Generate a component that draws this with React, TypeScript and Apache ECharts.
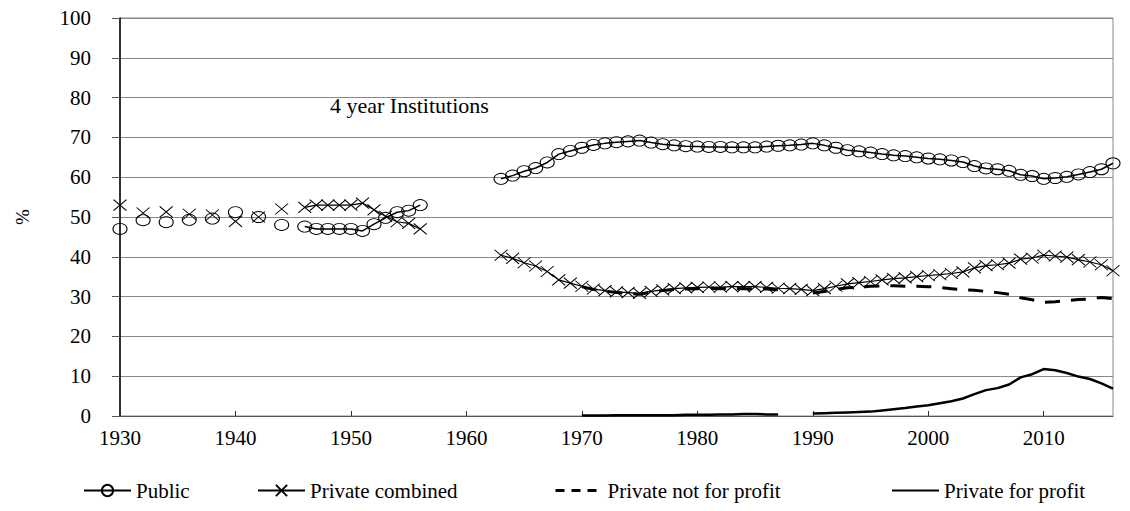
import React, { useEffect, useRef } from "react";
import * as echarts from "echarts";

const FIRST_YEAR = 1930;
const LAST_YEAR = 2016;
const years: string[] = [];
for (let y = FIRST_YEAR; y <= LAST_YEAR; y++) years.push(String(y));

const yTicks = [0, 10, 20, 30, 40, 50, 60, 70, 80, 90, 100];

// 1930-1956 (biennial then annual)
const earlyYears = [1930, 1932, 1934, 1936, 1938, 1940, 1942, 1944, 1946, 1947, 1948, 1949, 1950, 1951, 1952, 1953, 1954, 1955, 1956];
const publicEarly = [47.0, 49.2, 48.7, 49.3, 49.6, 51.2, 50.0, 48.0, 47.6, 47.0, 47.0, 47.0, 47.0, 46.5, 48.2, 49.8, 51.2, 51.6, 53.0];
const privateEarly = [53.0, 51.0, 51.3, 50.7, 50.5, 48.9, 50.0, 52.0, 52.4, 53.0, 53.0, 53.0, 53.0, 53.5, 51.8, 50.2, 48.8, 48.4, 47.0];

// 1963-2016 (annual)
const modernStart = 1963;
const publicModern = [
  59.6, 60.4, 61.5, 62.3, 63.7, 65.8, 66.6, 67.4, 68.1, 68.5,
  68.8, 69.0, 69.2, 68.7, 68.3, 68.0, 67.8, 67.7, 67.6, 67.6,
  67.5, 67.5, 67.5, 67.7, 67.9, 68.0, 68.2, 68.5, 68.0, 67.4,
  66.8, 66.5, 66.2, 65.8, 65.5, 65.3, 65.0, 64.7, 64.5, 64.2,
  63.8, 62.8, 62.2, 62.0, 61.6, 60.6, 60.3, 59.6, 59.8, 60.1,
  60.7, 61.3, 62.0, 63.5,
];
const privateModern = [
  40.4, 39.6, 38.5, 37.7, 36.3, 34.2, 33.4, 32.6, 31.9, 31.5,
  31.2, 31.0, 30.8, 31.3, 31.7, 32.0, 32.2, 32.3, 32.4, 32.4,
  32.5, 32.5, 32.5, 32.3, 32.1, 32.0, 31.8, 31.5, 32.0, 32.6,
  33.2, 33.5, 33.8, 34.2, 34.5, 34.7, 35.0, 35.3, 35.5, 35.8,
  36.2, 37.2, 37.8, 38.0, 38.4, 39.4, 39.7, 40.4, 40.2, 39.9,
  39.3, 38.7, 38.0, 36.5,
];

// split series: 1970-1987 and 1990-2016
const splitStartA = 1970;
const notForProfitA = [32.5, 31.8, 31.4, 31.0, 30.8, 30.6, 31.1, 31.5, 31.8, 31.9, 32.0, 32.1, 32.0, 32.1, 32.0, 32.0, 31.9, 31.7];
const forProfitA = [0.1, 0.1, 0.1, 0.2, 0.2, 0.2, 0.2, 0.2, 0.2, 0.3, 0.3, 0.3, 0.4, 0.4, 0.5, 0.5, 0.4, 0.4];
const splitStartB = 1990;
const notForProfitB = [
  30.9, 31.3, 31.8, 32.2, 32.4, 32.6, 32.7, 32.7, 32.6, 32.6,
  32.5, 32.3, 32.0, 31.7, 31.6, 31.3, 31.0, 30.6, 29.7, 29.2,
  28.6, 28.7, 29.0, 29.3, 29.4, 29.8, 29.5,
];
const forProfitB = [
  0.6, 0.7, 0.8, 0.9, 1.0, 1.1, 1.4, 1.7, 2.0, 2.4,
  2.7, 3.2, 3.7, 4.4, 5.5, 6.5, 7.0, 7.9, 9.7, 10.5,
  11.8, 11.5, 10.8, 9.9, 9.3, 8.2, 6.9,
];

function place(target: (number | null)[], yrs: number[], vals: number[]) {
  yrs.forEach((yr, i) => {
    target[yr - FIRST_YEAR] = vals[i];
  });
}
function placeRun(target: (number | null)[], start: number, vals: number[]) {
  vals.forEach((v, i) => {
    target[start + i - FIRST_YEAR] = v;
  });
}
function empty(): (number | null)[] {
  return years.map(() => null);
}

const FONT = "Liberation Serif";

export default function App() {
  const ref = useRef<HTMLDivElement>(null);
  useEffect(() => {
    if (!ref.current) return;
    const chart = echarts.init(ref.current, undefined, { renderer: "svg" });

    const publicData = empty();
    place(publicData, earlyYears, publicEarly);
    placeRun(publicData, modernStart, publicModern);
    const privateData = empty();
    place(privateData, earlyYears, privateEarly);
    placeRun(privateData, modernStart, privateModern);
    const nfpData = empty();
    placeRun(nfpData, splitStartA, notForProfitA);
    placeRun(nfpData, splitStartB, notForProfitB);
    const fpData = empty();
    placeRun(fpData, splitStartA, forProfitA);
    placeRun(fpData, splitStartB, forProfitB);

    const every10 = (idx: number) => idx % 10 === 0;
    const legendBase = {
      top: 480,
      padding: 0,
      itemWidth: 47,
      itemHeight: 14,
      textStyle: { fontFamily: FONT, fontSize: 21, color: "#000" },
    };

    chart.setOption({
      animation: false,
      backgroundColor: "#fff",
      textStyle: { fontFamily: FONT },
      grid: {
        left: 120,
        right: 17,
        top: 18,
        bottom: 95,
        show: true,
        borderColor: "#888",
        borderWidth: 1,
      },
      xAxis: {
        type: "category",
        data: years,
        boundaryGap: false,
        axisLine: { lineStyle: { color: "#555", width: 1 } },
        axisTick: { show: true, inside: true, length: 5, interval: every10, lineStyle: { color: "#333" } },
        axisLabel: { interval: every10, fontFamily: FONT, fontSize: 21, color: "#000", margin: 11 },
        splitLine: { show: false },
      },
      yAxis: {
        type: "value",
        min: 0,
        max: 100,
        interval: 10,
        name: "%",
        nameLocation: "middle",
        nameGap: 88,
        nameRotate: 90,
        nameTextStyle: { fontFamily: FONT, fontSize: 19, color: "#000" },
        axisLine: { show: true, lineStyle: { color: "#000", width: 1.5 } },
        axisTick: { show: true, length: 8, lineStyle: { color: "#555" } },
        axisLabel: {
          fontFamily: FONT,
          fontSize: 21,
          color: "#000",
          margin: 29,
          formatter: (v: number) => (yTicks.includes(v) ? String(v) : ""),
        },
        splitLine: { show: true, lineStyle: { color: "#888", width: 1 } },
      },
      legend: [
        { ...legendBase, left: 83, data: ["Public"] },
        { ...legendBase, left: 257, data: ["Private combined"] },
        {
          ...legendBase,
          left: 554,
          data: [
            {
              name: "Private not for profit",
              itemStyle: { opacity: 0 },
              lineStyle: { type: [9, 7], width: 3 },
            },
          ],
        },
        {
          ...legendBase,
          left: 891,
          data: [{ name: "Private for profit", itemStyle: { opacity: 0 } }],
        },
      ],
      graphic: [
        {
          type: "text",
          left: 330,
          top: 94,
          style: { text: "4 year Institutions", fontFamily: FONT, fontSize: 22, fill: "#000" },
        },
      ],
      series: [
        {
          name: "Private not for profit",
          type: "line",
          data: nfpData,
          connectNulls: false,
          symbol: "none",
          lineStyle: { color: "#000", width: 3, type: [15, 11] },
          itemStyle: { color: "#000" },
          z: 2,
        },
        {
          name: "Private for profit",
          type: "line",
          data: fpData,
          connectNulls: false,
          symbol: "none",
          lineStyle: { color: "#000", width: 2.5 },
          itemStyle: { color: "#000" },
          z: 2,
        },
        {
          name: "Private combined",
          type: "line",
          data: privateData,
          connectNulls: false,
          showAllSymbol: true,
          symbol: "path://M0,0L10,10M10,0L0,10",
          symbolSize: [13, 11],
          lineStyle: { color: "#000", width: 1.2 },
          itemStyle: { color: "none", borderColor: "#000", borderWidth: 1 },
          z: 3,
        },
        {
          name: "Public",
          type: "line",
          data: publicData,
          connectNulls: false,
          showAllSymbol: true,
          symbol: "circle",
          symbolSize: [14, 11],
          lineStyle: { color: "#000", width: 1.5 },
          itemStyle: { color: "rgba(255,255,255,0)", borderColor: "#000", borderWidth: 1 },
          z: 4,
        },
      ],
    });
    return () => chart.dispose();
  }, []);

  return (
    <div
      ref={ref}
      style={{ position: "absolute", left: 0, top: 0, width: 1130, height: 511 }}
    />
  );
}
